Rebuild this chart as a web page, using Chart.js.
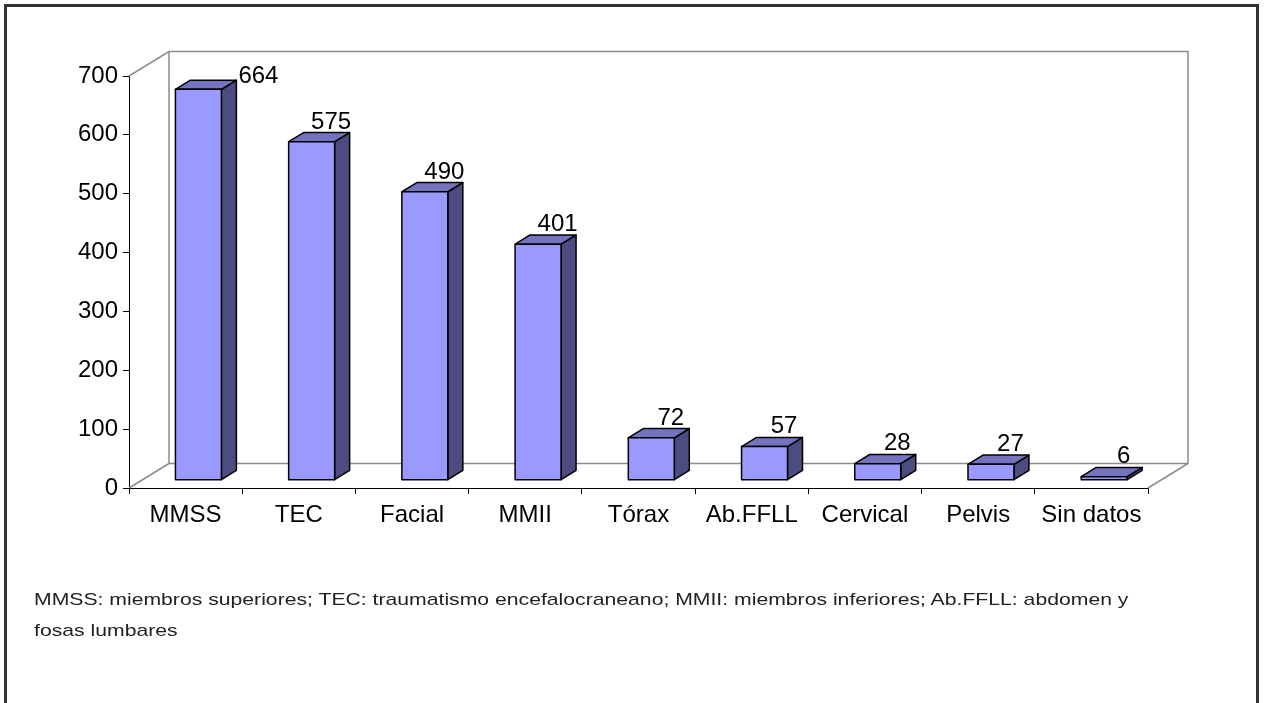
<!DOCTYPE html>
<html>
<head>
<meta charset="utf-8">
<script src="https://cdn.jsdelivr.net/npm/chart.js@4.4.1/dist/chart.umd.min.js"></script>
<style>
  html, body { margin: 0; padding: 0; background: #fff; }
  body { width: 1264px; height: 703px; position: relative; overflow: hidden; font-family: "Liberation Sans", Arial, sans-serif; }
  #frame { position: absolute; left: 4px; top: 4px; width: 1255px; height: 760px; border: 3px solid #333; box-sizing: border-box; }
  #chart { position: absolute; left: 0; top: 0; }
  #nota { position: absolute; left: 34px; top: 584px; font-size: 17px; line-height: 31px; color: #222;
          white-space: nowrap; transform: scaleX(1.246); transform-origin: 0 0; }
</style>
</head>
<body>
<div id="frame"></div>
<canvas id="chart" width="1264" height="703"></canvas>
<div id="nota">MMSS: miembros superiores; TEC: traumatismo encefalocraneano; MMII: miembros inferiores; Ab.FFLL: abdomen y<br>fosas lumbares</div>

<script>
const categorias = ['MMSS', 'TEC', 'Facial', 'MMII', 'Tórax', 'Ab.FFLL', 'Cervical', 'Pelvis', 'Sin datos'];
const casos = [664, 575, 490, 401, 72, 57, 28, 27, 6];
const yTicks = [0, 100, 200, 300, 400, 500, 600, 700];

// profundidad del "3D" tipo Excel
const depth = { dx: 40, dy: -24.5 };
const barFront = 0.32;   // fraccion de profundidad donde empieza la barra
const barThick = 0.375;  // grosor de la barra en profundidad

const colFront = '#9999ff';
const colTop = '#7373c0';
const colSide = '#4c4c80';
const colWall = '#8c8c8c';
const font = '"Liberation Sans", Arial, sans-serif';

function poly(ctx, pts, fill) {
  ctx.beginPath();
  ctx.moveTo(pts[0][0], pts[0][1]);
  for (let i = 1; i < pts.length; i++) ctx.lineTo(pts[i][0], pts[i][1]);
  ctx.closePath();
  ctx.fillStyle = fill;
  ctx.fill();
  ctx.stroke();
}

const threeD = {
  id: 'threeD',
  beforeDatasetsDraw(chart) {
    const { ctx, chartArea: a } = chart;
    const dx = depth.dx, dy = depth.dy;
    ctx.save();
    ctx.strokeStyle = colWall;
    ctx.lineWidth = 1.5;
    ctx.beginPath();
    // pared del fondo
    ctx.moveTo(a.left, a.top);
    ctx.lineTo(a.left + dx, a.top + dy);
    ctx.lineTo(a.right + dx, a.top + dy);
    ctx.lineTo(a.right + dx, a.bottom + dy);
    ctx.lineTo(a.left + dx, a.bottom + dy);
    ctx.lineTo(a.left + dx, a.top + dy);
    // piso
    ctx.moveTo(a.left, a.bottom);
    ctx.lineTo(a.left + dx, a.bottom + dy);
    ctx.moveTo(a.right, a.bottom);
    ctx.lineTo(a.right + dx, a.bottom + dy);
    ctx.stroke();
    ctx.restore();
  },
  afterDatasetsDraw(chart) {
    const { ctx, chartArea: a } = chart;
    const meta = chart.getDatasetMeta(0);
    const ox = depth.dx * barFront, oy = depth.dy * barFront;
    const bx = depth.dx * barThick, by = depth.dy * barThick;
    ctx.save();
    ctx.strokeStyle = '#000';
    ctx.lineWidth = 1.5;
    ctx.lineJoin = 'round';
    meta.data.forEach((el, i) => {
      const w = el.width;
      const l = el.x - w / 2 + ox, r = l + w;
      const t = el.y + oy, b = el.base + oy;
      poly(ctx, [[r, b], [r + bx, b + by], [r + bx, t + by], [r, t]], colSide);
      poly(ctx, [[l, t], [r, t], [r + bx, t + by], [l + bx, t + by]], colTop);
      poly(ctx, [[l, t], [r, t], [r, b], [l, b]], colFront);

      // etiqueta de valor
      ctx.fillStyle = '#000';
      ctx.font = '24px ' + font;
      ctx.textBaseline = 'alphabetic';
      const topBack = t + by;
      if (topBack - 24 < a.top) {
        ctx.textAlign = 'left';
        ctx.fillText(String(casos[i]), r + bx + 2, topBack + 3);
      } else {
        ctx.textAlign = 'center';
        ctx.fillText(String(casos[i]), (l + r) / 2 + bx / 2 + 12, topBack - 4);
      }
    });
    ctx.restore();
  }
};

new Chart(document.getElementById('chart'), {
  type: 'bar',
  data: {
    labels: categorias,
    datasets: [{
      label: 'Casos',
      data: casos,
      backgroundColor: 'rgba(0,0,0,0)',
      borderWidth: 0,
      categoryPercentage: 1,
      barPercentage: 0.406
    }]
  },
  options: {
    responsive: false,
    animation: false,
    devicePixelRatio: 1,
    layout: { padding: { left: 0, top: 76, right: 116, bottom: 165 } },
    plugins: {
      legend: { display: false },
      tooltip: { enabled: false }
    },
    scales: {
      x: {
        grid: { drawOnChartArea: false, tickLength: 6, color: '#000', offset: true },
        border: { color: '#000', width: 1 },
        ticks: { color: '#000', padding: 7, maxRotation: 0, minRotation: 0, font: { family: font, size: 24 } },
        afterFit(scale) { scale.height = 50; }
      },
      y: {
        min: 0,
        max: 700,
        grid: { drawOnChartArea: false, tickLength: 6, color: '#000' },
        border: { color: '#000', width: 1 },
        ticks: { color: '#000', padding: 5, font: { family: font, size: 24 } },
        afterBuildTicks(scale) { scale.ticks = yTicks.map(v => ({ value: v })); },
        afterFit(scale) { scale.width = 129; }
      }
    }
  },
  plugins: [threeD]
});
</script>
</body>
</html>
